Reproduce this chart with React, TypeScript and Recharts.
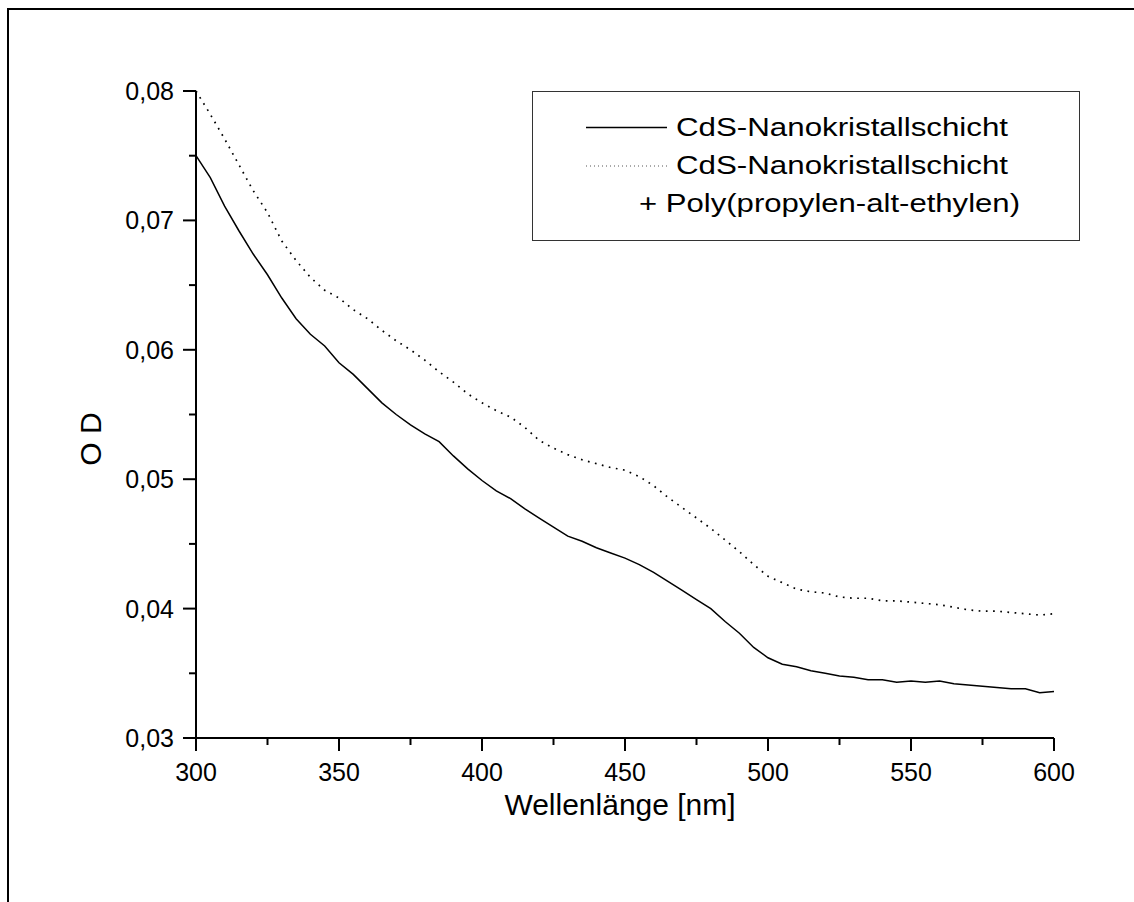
import { LineChart, Line, XAxis, YAxis, Legend } from 'recharts';

// Wellenlänge [nm]
const wavelength = [
  300, 305, 310, 315, 320, 325, 330, 335, 340, 345,
  350, 355, 360, 365, 370, 375, 380, 385, 390, 395,
  400, 405, 410, 415, 420, 425, 430, 435, 440, 445,
  450, 455, 460, 465, 470, 475, 480, 485, 490, 495,
  500, 505, 510, 515, 520, 525, 530, 535, 540, 545,
  550, 555, 560, 565, 570, 575, 580, 585, 590, 595, 600,
];

// CdS-Nanokristallschicht
const odFilm = [
  0.0750, 0.0733, 0.0711, 0.0692, 0.0674, 0.0658, 0.0640, 0.0624, 0.0612, 0.0603,
  0.0590, 0.0581, 0.0570, 0.0559, 0.0550, 0.0542, 0.0535, 0.0529, 0.0518, 0.0508,
  0.0499, 0.0491, 0.0485, 0.0477, 0.0470, 0.0463, 0.0456, 0.0452, 0.0447, 0.0443,
  0.0439, 0.0434, 0.0428, 0.0421, 0.0414, 0.0407, 0.0400, 0.0390, 0.0381, 0.0370,
  0.0362, 0.0357, 0.0355, 0.0352, 0.0350, 0.0348, 0.0347, 0.0345, 0.0345, 0.0343,
  0.0344, 0.0343, 0.0344, 0.0342, 0.0341, 0.0340, 0.0339, 0.0338, 0.0338, 0.0335, 0.0336,
];

// CdS-Nanokristallschicht + Poly(propylen-alt-ethylen)
const odFilmPolymer = [
  0.0800, 0.0782, 0.0763, 0.0743, 0.0723, 0.0706, 0.0684, 0.0669, 0.0656, 0.0646,
  0.0640, 0.0631, 0.0624, 0.0615, 0.0607, 0.0600, 0.0592, 0.0583, 0.0575, 0.0566,
  0.0559, 0.0553, 0.0548, 0.0540, 0.0530, 0.0524, 0.0519, 0.0515, 0.0512, 0.0509,
  0.0507, 0.0502, 0.0495, 0.0486, 0.0478, 0.0470, 0.0462, 0.0453, 0.0444, 0.0434,
  0.0425, 0.0420, 0.0415, 0.0413, 0.0412, 0.0409, 0.0408, 0.0408, 0.0406, 0.0406,
  0.0405, 0.0404, 0.0403, 0.0401, 0.0399, 0.0398, 0.0398, 0.0397, 0.0396, 0.0395, 0.0396,
];

const xTicks = [300, 325, 350, 375, 400, 425, 450, 475, 500, 525, 550, 575, 600];
const xLabelTicks = [300, 350, 400, 450, 500, 550, 600];
const yTicks = [0.03, 0.035, 0.04, 0.045, 0.05, 0.055, 0.06, 0.065, 0.07, 0.075, 0.08];
const yLabelTicks = [0.03, 0.04, 0.05, 0.06, 0.07, 0.08];

const seriesNames = [
  'CdS-Nanokristallschicht',
  'CdS-Nanokristallschicht',
  '+ Poly(propylen-alt-ethylen)',
];

const data = wavelength.map((w, i) => ({
  w,
  film: odFilm[i],
  polymer: odFilmPolymer[i],
}));

const FONT = '"Liberation Sans", Arial, Helvetica, sans-serif';
const WIDTH = 1134;
const HEIGHT = 902;
const margin = { top: 91, right: 80, bottom: 104, left: 96 };
const Y_AXIS_W = 100;
const X_AXIS_H = 60;
const PLOT_LEFT = margin.left + Y_AXIS_W;
const PLOT_BOTTOM = HEIGHT - margin.bottom - X_AXIS_H;

const fmt = (v: number) => v.toFixed(2).replace('.', ',');

const XTick = (props: any) => {
  const { x, payload } = props;
  const major = xLabelTicks.includes(payload.value);
  return (
    <g>
      <line x1={x} x2={x} y1={PLOT_BOTTOM} y2={PLOT_BOTTOM + (major ? 13 : 7)} stroke="#000" strokeWidth={2} />
      {major && (
        <text x={x} y={PLOT_BOTTOM + 43} textAnchor="middle" fontSize={25} fontFamily={FONT} fill="#000">
          {payload.value}
        </text>
      )}
    </g>
  );
};

const YTick = (props: any) => {
  const { y, payload } = props;
  const major = yLabelTicks.some((t) => Math.abs(t - payload.value) < 1e-6);
  return (
    <g>
      <line x1={PLOT_LEFT} x2={PLOT_LEFT - (major ? 13 : 7)} y1={y} y2={y} stroke="#000" strokeWidth={2} />
      {major && (
        <text x={PLOT_LEFT - 22} y={y + 9} textAnchor="end" fontSize={25} fontFamily={FONT} fill="#000">
          {fmt(payload.value)}
        </text>
      )}
    </g>
  );
};

const LegendBox = () => (
  <svg width={546} height={148} style={{ display: 'block' }}>
    <line x1={53} x2={134} y1={35.5} y2={35.5} stroke="#000" strokeWidth={1.3} />
    <line x1={53} x2={134} y1={74} y2={74} stroke="#555" strokeWidth={1} strokeDasharray="1 3" />
    <g fontFamily={FONT} fontSize={25} fill="#000">
      <text x={143} y={44} textLength={332} lengthAdjust="spacingAndGlyphs">{seriesNames[0]}</text>
      <text x={143} y={82} textLength={332} lengthAdjust="spacingAndGlyphs">{seriesNames[1]}</text>
      <text x={106} y={120} textLength={381} lengthAdjust="spacingAndGlyphs">{seriesNames[2]}</text>
    </g>
  </svg>
);

const App = () => {
  return (
    <div style={{ position: 'absolute', left: 0, top: 0, width: WIDTH, height: HEIGHT, background: '#fff', fontFamily: FONT }}>
      <div
        style={{
          position: 'absolute',
          left: 7,
          top: 8,
          width: WIDTH - 7,
          height: HEIGHT - 8,
          boxSizing: 'border-box',
          borderLeft: '2px solid #000',
          borderTop: '2px solid #000',
        }}
      />
      <div style={{ position: 'absolute', left: 0, top: 0 }}>
        <LineChart width={WIDTH} height={HEIGHT} data={data} margin={margin}>
          <XAxis
            dataKey="w"
            type="number"
            domain={[300, 600]}
            ticks={xTicks}
            interval={0}
            height={X_AXIS_H}
            tickLine={false}
            tick={<XTick />}
            axisLine={{ stroke: '#000', strokeWidth: 2 }}
            label={{
              content: () => (
                <text x={620} y={815} textAnchor="middle" fontSize={30} fontFamily={FONT} fill="#000">
                  Wellenlänge [nm]
                </text>
              ),
            }}
          />
          <YAxis
            type="number"
            domain={[0.03, 0.08]}
            ticks={yTicks}
            interval={0}
            width={Y_AXIS_W}
            tickLine={false}
            tick={<YTick />}
            axisLine={{ stroke: '#000', strokeWidth: 2 }}
            label={{
              content: () => (
                <text
                  x={101}
                  y={439}
                  transform="rotate(-90, 101, 439)"
                  textAnchor="middle"
                  fontSize={30}
                  fontFamily={FONT}
                  fill="#000"
                >
                  O D
                </text>
              ),
            }}
          />
          <Legend
            layout="horizontal"
            verticalAlign="middle"
            align="center"
            content={() => <LegendBox />}
            wrapperStyle={{
              position: 'absolute',
              left: 532,
              top: 91,
              width: 548,
              height: 150,
              boxSizing: 'border-box',
              border: '1px solid #333',
              background: '#fff',
            }}
          />
          <Line
            type="linear"
            dataKey="film"
            name={seriesNames[0]}
            stroke="#000"
            strokeWidth={1.5}
            dot={false}
            isAnimationActive={false}
          />
          <Line
            type="linear"
            dataKey="polymer"
            name={seriesNames[1]}
            stroke="#000"
            strokeWidth={1.7}
            strokeDasharray="1.7 5.5"
            dot={false}
            isAnimationActive={false}
          />
        </LineChart>
      </div>
    </div>
  );
};

export default App;
